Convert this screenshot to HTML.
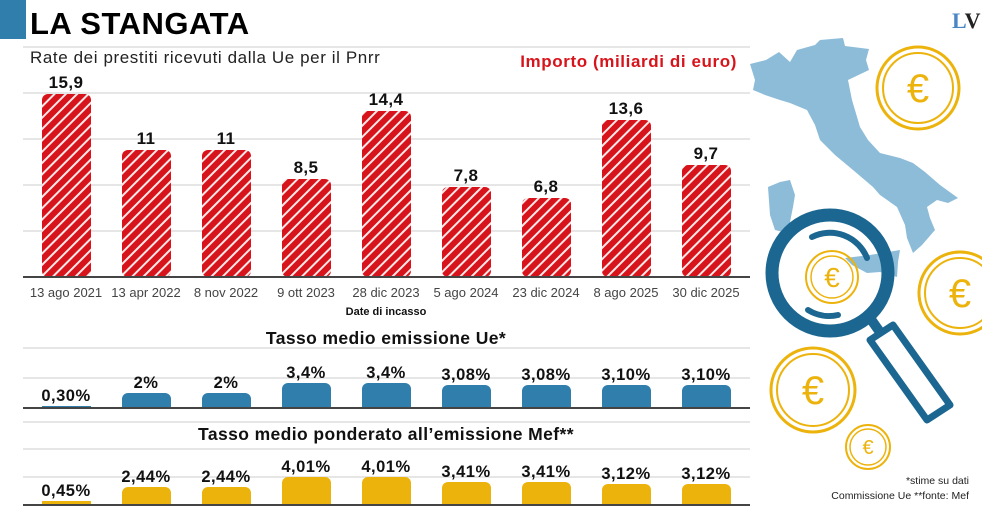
<!DOCTYPE html>
<html><head><meta charset="utf-8"><style>
body{margin:0;background:#fff;}
svg{display:block;font-family:"Liberation Sans",sans-serif;}
</style></head><body>
<svg width="982" height="510" viewBox="0 0 982 510" xmlns="http://www.w3.org/2000/svg">
<defs>
<pattern id="h" patternUnits="userSpaceOnUse" width="8" height="8" patternTransform="rotate(45)">
<rect width="8" height="8" fill="#d7141b"/><rect x="0" width="2" height="8" fill="#fff" opacity="0.9"/>
</pattern>
</defs>
<rect x="0" y="0" width="26" height="39" fill="#2f7eab"/>
<text x="30" y="34" font-size="31" font-weight="bold" fill="#000" letter-spacing="0.5">LA STANGATA</text>
<text x="952" y="28" font-size="22" font-weight="bold" font-family="Liberation Serif,serif" fill="#4a86c5">L<tspan fill="#222">V</tspan></text>
<g stroke="#ccc" stroke-width="1">
<line x1="23" y1="47" x2="750" y2="47"/><line x1="23" y1="93" x2="750" y2="93"/><line x1="23" y1="139" x2="750" y2="139"/><line x1="23" y1="185" x2="750" y2="185"/><line x1="23" y1="231" x2="750" y2="231"/>
<line x1="23" y1="348" x2="750" y2="348"/><line x1="23" y1="378" x2="750" y2="378"/>
<line x1="23" y1="422" x2="750" y2="422"/><line x1="23" y1="449" x2="750" y2="449"/><line x1="23" y1="477" x2="750" y2="477"/>
</g>
<text x="30" y="63" font-size="17" fill="#222" letter-spacing="0.6">Rate dei prestiti ricevuti dalla Ue per il Pnrr</text>
<text x="737" y="67" font-size="17" font-weight="bold" fill="#d7141b" text-anchor="end" letter-spacing="0.6">Importo (miliardi di euro)</text>
<g fill="url(#h)">
<rect x="42" y="94" width="49" height="183" rx="6"/>
<rect x="122" y="150" width="49" height="127" rx="6"/>
<rect x="202" y="150" width="49" height="127" rx="6"/>
<rect x="282" y="179" width="49" height="98" rx="6"/>
<rect x="362" y="111" width="49" height="166" rx="6"/>
<rect x="442" y="187" width="49" height="90" rx="6"/>
<rect x="522" y="198" width="49" height="79" rx="6"/>
<rect x="602" y="120" width="49" height="157" rx="6"/>
<rect x="682" y="165" width="49" height="112" rx="6"/>
</g>
<line x1="23" y1="277" x2="750" y2="277" stroke="#444" stroke-width="2"/>
<g font-size="17" font-weight="bold" text-anchor="middle" fill="#111" letter-spacing="0.4">
<text x="66" y="88">15,9</text><text x="146" y="144">11</text><text x="226" y="144">11</text><text x="306" y="173">8,5</text><text x="386" y="105">14,4</text><text x="466" y="181">7,8</text><text x="546" y="192">6,8</text><text x="626" y="114">13,6</text><text x="706" y="159">9,7</text>
</g>
<g font-size="13" text-anchor="middle" fill="#444">
<text x="66" y="297">13 ago 2021</text><text x="146" y="297">13 apr 2022</text><text x="226" y="297">8 nov 2022</text><text x="306" y="297">9 ott 2023</text><text x="386" y="297">28 dic 2023</text><text x="466" y="297">5 ago 2024</text><text x="546" y="297">23 dic 2024</text><text x="626" y="297">8 ago 2025</text><text x="706" y="297">30 dic 2025</text>
</g>
<text x="386" y="315" font-size="11" font-weight="bold" text-anchor="middle" fill="#111">Date di incasso</text>
<text x="386" y="344" font-size="17.5" font-weight="bold" text-anchor="middle" fill="#111" letter-spacing="0.4">Tasso medio emissione Ue*</text>
<g fill="#2f7eab">
<rect x="42" y="406" width="49" height="2"/>
<path d="M122 408V399a6 6 0 0 1 6-6h37a6 6 0 0 1 6 6V408Z"/>
<path d="M202 408V399a6 6 0 0 1 6-6h37a6 6 0 0 1 6 6V408Z"/>
<path d="M282 408V389a6 6 0 0 1 6-6h37a6 6 0 0 1 6 6V408Z"/>
<path d="M362 408V389a6 6 0 0 1 6-6h37a6 6 0 0 1 6 6V408Z"/>
<path d="M442 408V391a6 6 0 0 1 6-6h37a6 6 0 0 1 6 6V408Z"/>
<path d="M522 408V391a6 6 0 0 1 6-6h37a6 6 0 0 1 6 6V408Z"/>
<path d="M602 408V391a6 6 0 0 1 6-6h37a6 6 0 0 1 6 6V408Z"/>
<path d="M682 408V391a6 6 0 0 1 6-6h37a6 6 0 0 1 6 6V408Z"/>
</g>
<line x1="23" y1="408" x2="750" y2="408" stroke="#444" stroke-width="2"/>
<g font-size="16.5" font-weight="bold" text-anchor="middle" fill="#111" letter-spacing="0.5">
<text x="66" y="401">0,30%</text><text x="146" y="388">2%</text><text x="226" y="388">2%</text><text x="306" y="378">3,4%</text><text x="386" y="378">3,4%</text><text x="466" y="380">3,08%</text><text x="546" y="380">3,08%</text><text x="626" y="380">3,10%</text><text x="706" y="380">3,10%</text>
</g>
<text x="386" y="440" font-size="17.5" font-weight="bold" text-anchor="middle" fill="#111" letter-spacing="0.4">Tasso medio ponderato all’emissione Mef**</text>
<g fill="#edb30d">
<rect x="42" y="501" width="49" height="4"/>
<path d="M122 505V493a6 6 0 0 1 6-6h37a6 6 0 0 1 6 6V505Z"/>
<path d="M202 505V493a6 6 0 0 1 6-6h37a6 6 0 0 1 6 6V505Z"/>
<path d="M282 505V483a6 6 0 0 1 6-6h37a6 6 0 0 1 6 6V505Z"/>
<path d="M362 505V483a6 6 0 0 1 6-6h37a6 6 0 0 1 6 6V505Z"/>
<path d="M442 505V488a6 6 0 0 1 6-6h37a6 6 0 0 1 6 6V505Z"/>
<path d="M522 505V488a6 6 0 0 1 6-6h37a6 6 0 0 1 6 6V505Z"/>
<path d="M602 505V490a6 6 0 0 1 6-6h37a6 6 0 0 1 6 6V505Z"/>
<path d="M682 505V490a6 6 0 0 1 6-6h37a6 6 0 0 1 6 6V505Z"/>
</g>
<line x1="23" y1="505" x2="750" y2="505" stroke="#444" stroke-width="2"/>
<g font-size="16.5" font-weight="bold" text-anchor="middle" fill="#111" letter-spacing="0.5">
<text x="66" y="496">0,45%</text><text x="146" y="482">2,44%</text><text x="226" y="482">2,44%</text><text x="306" y="472">4,01%</text><text x="386" y="472">4,01%</text><text x="466" y="477">3,41%</text><text x="546" y="477">3,41%</text><text x="626" y="479">3,12%</text><text x="706" y="479">3,12%</text>
</g>
<g fill="#8dbcd9">
<path d="M750 64L766 60L779 52L790 62L797 50L815 45L820 40L843 38L845 46L869 49L866 60L869 70L848 80L852 100L860 127L868 140L880 153L900 158L913 163L925 172L940 185L958 198L948 203L937 200L927 207L930 218L935 230L922 245L913 253L907 238L905 225L897 207L880 195L873 187L853 170L835 155L820 140L815 125L807 110L790 103L780 100L765 95L753 90L755 80Z"/>
<path d="M768 187L780 182L790 180L795 195L793 207L790 222L787 233L775 230L770 215Z"/>
<path d="M845 258L870 255L900 250L898 262L897 277L880 272L867 273L852 265Z"/>
</g>
<g fill="none" stroke="#edb30d">
<circle cx="918" cy="88" r="41" stroke-width="3"/><circle cx="918" cy="88" r="35" stroke-width="2"/>
<circle cx="960" cy="293" r="41" stroke-width="3"/><circle cx="960" cy="293" r="35" stroke-width="2"/>
<circle cx="813" cy="390" r="42" stroke-width="3"/><circle cx="813" cy="390" r="36" stroke-width="2"/>
<circle cx="868" cy="447" r="22" stroke-width="2"/><circle cx="868" cy="447" r="18" stroke-width="1.5"/>
<circle cx="832" cy="277" r="26" stroke-width="2"/><circle cx="832" cy="277" r="21" stroke-width="1.5"/>
</g>
<g fill="#edb30d" font-size="40" text-anchor="middle">
<text x="918" y="102">€</text><text x="960" y="307">€</text><text x="813" y="404">€</text>
<text x="868" y="454" font-size="20">€</text><text x="832" y="287" font-size="28">€</text>
</g>
<g stroke="#1b6791" fill="none">
<circle cx="830" cy="273" r="58" stroke-width="13"/>
<path d="M812 237A40 40 0 0 1 867 258" stroke-width="6" stroke-linecap="round"/>
<path d="M808 310A40 40 0 0 0 838 315" stroke-width="6" stroke-linecap="round"/>
<line x1="870" y1="318" x2="882" y2="335" stroke-width="10"/>
<path d="M870 340L893 325L950 405L927 420Z" stroke-width="7" stroke-linejoin="round"/>
</g>
<text x="969" y="484" font-size="10.5" text-anchor="end" fill="#222">*stime su dati</text>
<text x="969" y="499" font-size="10.5" text-anchor="end" fill="#222">Commissione Ue **fonte: Mef</text>
</svg>
</body></html>
